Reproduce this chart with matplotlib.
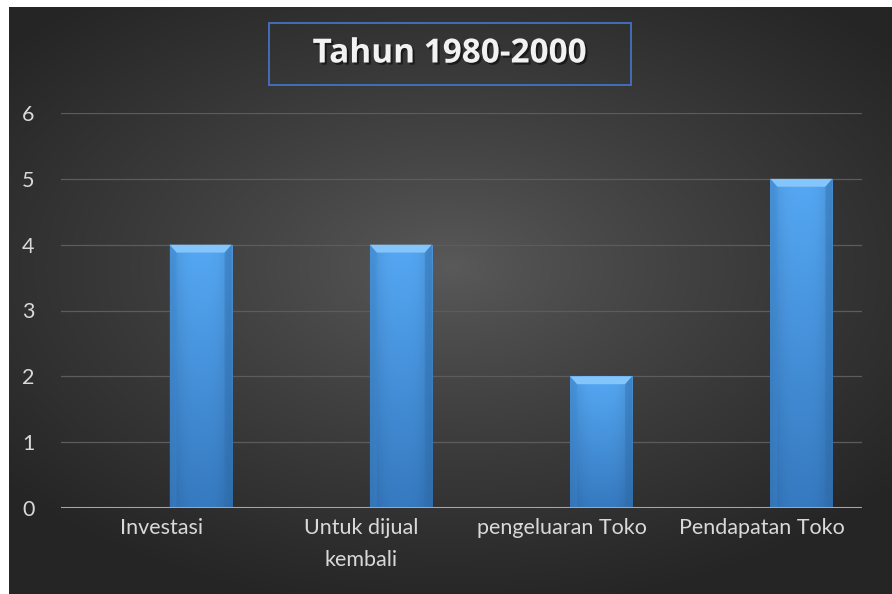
import numpy as np
import matplotlib
matplotlib.use("Agg")
import matplotlib.pyplot as plt
from matplotlib.patches import Rectangle, Polygon
import matplotlib.patheffects as pe

# Data
categories = ["Investasi", "Untuk dijual\nkembali", "pengeluaran Toko", "Pendapatan Toko"]
values = [4, 4, 2, 5]
yticks = [0, 1, 2, 3, 4, 5, 6]
title = "Tahun 1980-2000"

W, H = 892, 594
fig = plt.figure(figsize=(W / 100, H / 100), dpi=100, facecolor="white")

# Dark radial background (chart area leaves a thin white margin top/left)
bg = fig.add_axes([9 / W, 0, 1 - 9 / W, 1 - 7 / H])
bg.set_axis_off()
yy, xx = np.mgrid[-1:1:300j, -1:1:450j]
r = np.sqrt((xx * 0.95) ** 2 + (yy * 1.05 + 0.12) ** 2)
r = np.clip(r / 1.25, 0, 1)
c0 = np.array([0x5a, 0x5a, 0x5a]) / 255
c1 = np.array([0x25, 0x25, 0x25]) / 255
img = c0 + (c1 - c0) * r[..., None] ** 0.85
bg.imshow(img, aspect="auto", extent=[0, 1, 0, 1], interpolation="bilinear")

# Plot area
ax = fig.add_axes([61 / W, (H - 508) / H, 801 / W, 395 / H])
ax.patch.set_alpha(0)
x = np.arange(len(categories))
offset = 0.197
width = 0.31
ax.set_xlim(-0.5, len(categories) - 0.5)
ax.set_ylim(0, 6)

for t in yticks[1:]:
    ax.axhline(t, color="#5c5c5c", lw=0.9, zorder=1)

bars = ax.bar(x + offset, values, width=width, color="#4a9be8", zorder=2)

# gradient + bevel on each bar
grad = np.linspace(0, 1, 100)[:, None]
ctop = np.array([0x55, 0xa8, 0xf4]) / 255
cbot = np.array([0x36, 0x7a, 0xc0]) / 255
gimg = ctop + (cbot - ctop) * grad[..., None]
gimg = np.repeat(gimg, 10, axis=1)
edge = np.abs(np.linspace(-1, 1, 10))
gimg = gimg * (1 - 0.12 * edge[None, :, None] ** 3)
dx, dy = 0.035, 0.12
for b in bars:
    x0, w, h = b.get_x(), b.get_width(), b.get_height()
    im = ax.imshow(gimg, extent=[x0, x0 + w, 0, h], aspect="auto", zorder=3,
                   interpolation="bilinear")
    im.set_clip_path(b)
    ax.add_patch(Polygon([[x0, h], [x0 + w, h], [x0 + w - dx, h - dy], [x0 + dx, h - dy]],
                         closed=True, facecolor="#84c5fb", edgecolor="none", zorder=4))
    ax.add_patch(Polygon([[x0, h], [x0 + dx, h - dy], [x0 + dx, 0], [x0, 0]],
                         closed=True, facecolor="#3f8ad6", edgecolor="none", zorder=4, alpha=0.35))
    ax.add_patch(Polygon([[x0 + w, h], [x0 + w - dx, h - dy], [x0 + w - dx, 0], [x0 + w, 0]],
                         closed=True, facecolor="#2f6fb0", edgecolor="none", zorder=4, alpha=0.4))

ax.axhline(0, color="#a6a6a6", lw=2.2, zorder=5)

for s in ax.spines.values():
    s.set_visible(False)
ax.set_yticks(yticks)
ax.set_xticks(x)
ax.set_xticklabels(categories, fontsize=15.5, color="#d9d9d9", family="Lato",
                   linespacing=1.75, va="top")
ax.set_yticklabels([str(t) for t in yticks], fontsize=15.5, color="#d9d9d9", family="Lato")
ax.tick_params(axis="both", length=0)
ax.tick_params(axis="x", pad=7)
ax.tick_params(axis="y", pad=19)

# Title with box
fig.patches.append(Rectangle((269 / W, 1 - 85 / H), 362 / W, 62 / H, transform=fig.transFigure,
                             fill=False, edgecolor="#4472c4", lw=1.3))
fig.text(450 / W, 1 - 54 / H, title, ha="center", va="center", fontsize=24,
         fontweight="bold", family="Open Sans", color="#f2f2f2",
         path_effects=[pe.withSimplePatchShadow(offset=(1.5, -1.5), shadow_rgbFace="black", alpha=0.5)])

fig.savefig("out.png", dpi=100)
